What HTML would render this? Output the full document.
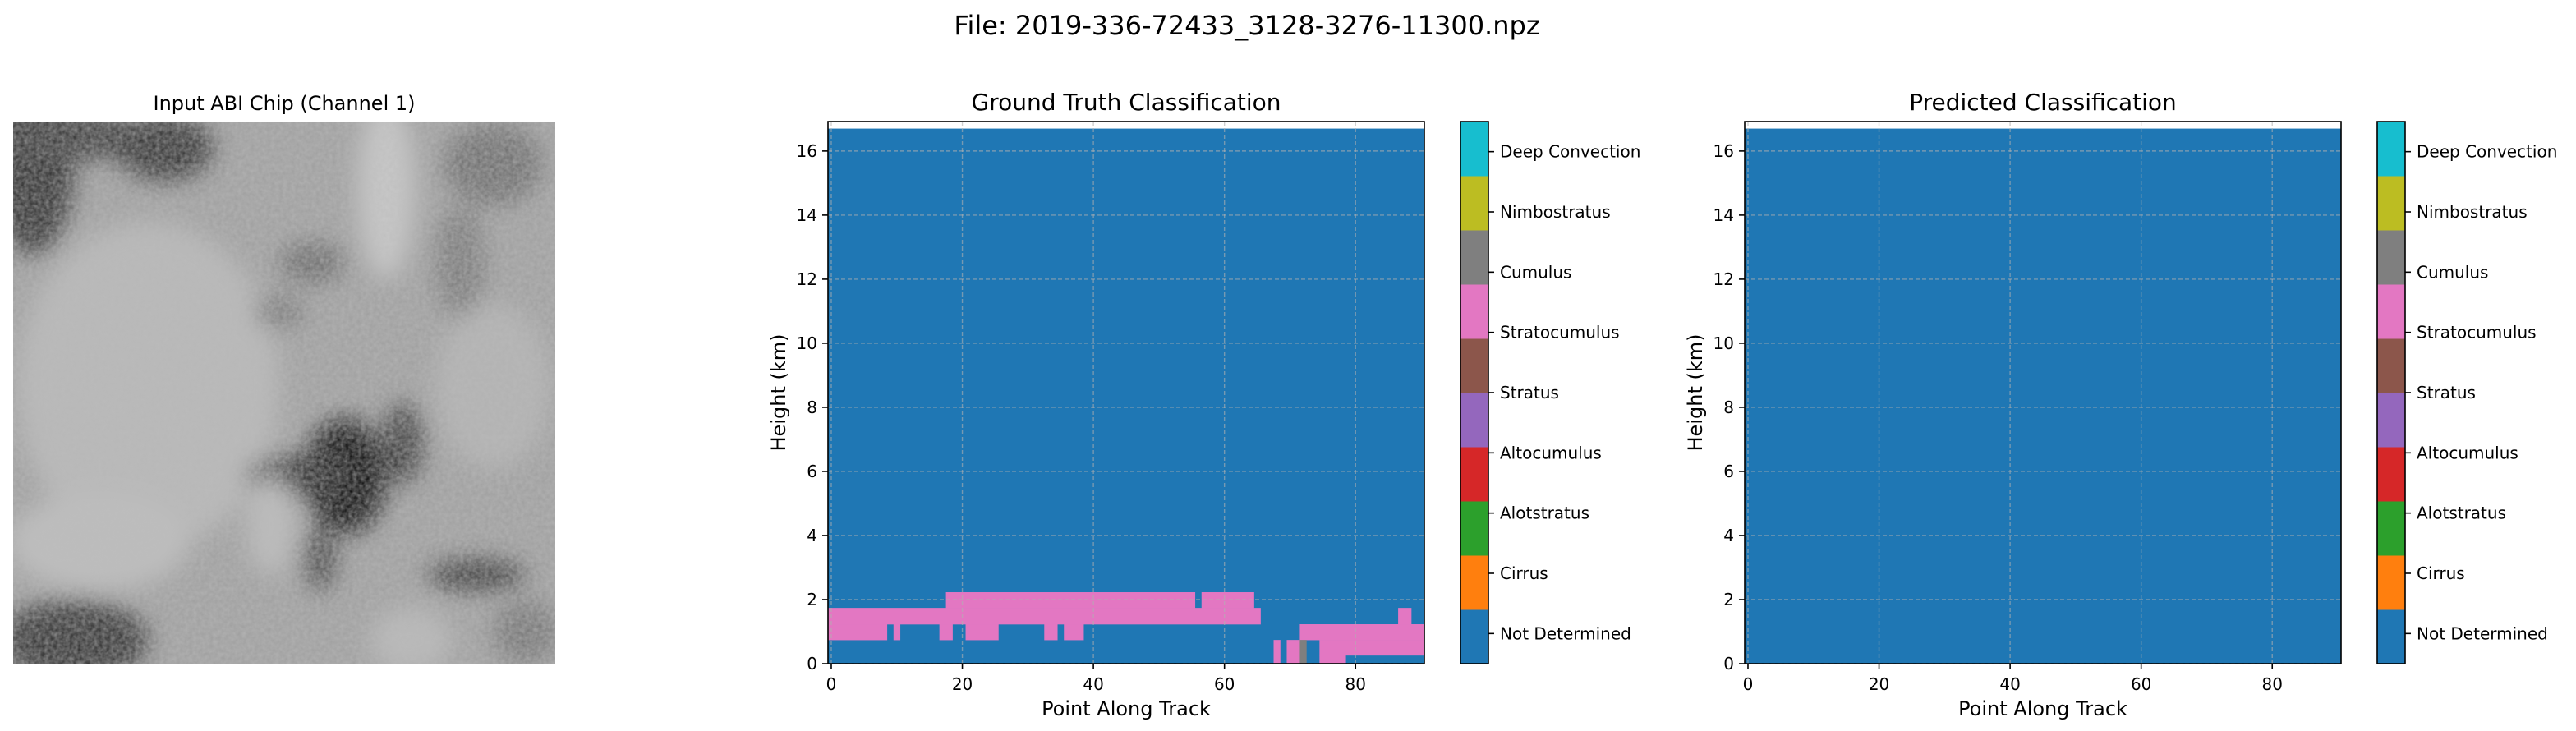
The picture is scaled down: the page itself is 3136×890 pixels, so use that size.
<!DOCTYPE html>
<html><head><meta charset="utf-8"><style>
html,body{margin:0;padding:0;background:#fff;}
svg{display:block;font-family:"DejaVu Sans","Liberation Sans",sans-serif;}
</style></head><body>
<svg id="fig" width="3136" height="890" viewBox="0 0 3136 890" xmlns="http://www.w3.org/2000/svg">
<defs>
<filter id="blur1" x="-20%" y="-20%" width="140%" height="140%"><feGaussianBlur stdDeviation="14"/></filter>
<filter id="noise" x="0" y="0" width="100%" height="100%">
<feTurbulence type="fractalNoise" baseFrequency="0.2" numOctaves="2" seed="4" result="t"/>
<feColorMatrix type="matrix" values="0 0 0 0 0.5  0 0 0 0 0.5  0 0 0 0 0.5  0 0 0 1.2 -0.1" />
</filter>
<clipPath id="imgclip"><rect x="16" y="148" width="660" height="660"/></clipPath>
</defs>
<text x="1518" y="42" font-size="32" text-anchor="middle" fill="#000">File: 2019-336-72433_3128-3276-11300.npz</text>

<g clip-path="url(#imgclip)">
<rect x="16" y="148" width="660" height="660" fill="#a0a0a0"/>
<g filter="url(#blur1)">
<ellipse cx="40" cy="200" rx="50" ry="110" fill="#2e2e2e"/>
<ellipse cx="90" cy="165" rx="90" ry="30" fill="#3a3a3a"/>
<ellipse cx="200" cy="180" rx="60" ry="40" fill="#333"/>
<ellipse cx="180" cy="470" rx="160" ry="200" fill="#b8b8b8"/>
<ellipse cx="120" cy="660" rx="110" ry="60" fill="#bdbdbd"/>
<ellipse cx="470" cy="230" rx="35" ry="110" fill="#c8c8c8"/>
<ellipse cx="600" cy="200" rx="60" ry="50" fill="#6e6e6e"/>
<ellipse cx="560" cy="320" rx="30" ry="70" fill="#7a7a7a"/>
<ellipse cx="380" cy="320" rx="40" ry="25" fill="#6a6a6a"/>
<ellipse cx="340" cy="380" rx="30" ry="20" fill="#777"/>
<ellipse cx="420" cy="580" rx="50" ry="70" fill="#111"/>
<ellipse cx="360" cy="580" rx="60" ry="25" fill="#2a2a2a"/>
<ellipse cx="330" cy="640" rx="30" ry="60" fill="#bbb"/>
<ellipse cx="490" cy="540" rx="25" ry="50" fill="#3e3e3e"/>
<ellipse cx="390" cy="680" rx="20" ry="40" fill="#4a4a4a"/>
<ellipse cx="580" cy="700" rx="60" ry="18" fill="#333"/>
<ellipse cx="90" cy="780" rx="90" ry="50" fill="#333"/>
<ellipse cx="600" cy="470" rx="70" ry="100" fill="#b2b2b2"/>
<ellipse cx="500" cy="780" rx="50" ry="40" fill="#b8b8b8"/>
<ellipse cx="640" cy="770" rx="40" ry="40" fill="#777"/>
</g>
<rect x="16" y="148" width="660" height="660" filter="url(#noise)" opacity="0.6"/>
</g>
<text x="346" y="134" font-size="24" text-anchor="middle">Input ABI Chip (Channel 1)</text>

<g id="gt"></g>
<g id="pred"></g>
</svg>
<script>
// ---- data ----
const nCols = 91;
const dataTop = 16.7;
const rowEdges = [0, 0.26, 0.74, 1.23, 1.74, 2.23];
// GT runs: [row, classIndex(6=Stratocumulus pink, 7=Cumulus gray), startCol, endCol]
const gtRuns = [
 [4,6,18,55],[4,6,57,64],
 [3,6,0,65],[3,6,87,88],
 [2,6,0,8],[2,6,10,10],[2,6,17,18],[2,6,21,25],[2,6,33,34],[2,6,36,38],[2,6,72,90],
 [1,6,68,68],[1,6,70,71],[1,7,72,72],[1,6,75,90],
 [0,6,68,68],[0,6,70,71],[0,7,72,72],[0,6,75,78]
];
const predRuns = [];
const xTicks = [0,20,40,60,80];
const yTicks = [0,2,4,6,8,10,12,14,16];
const cbColors = ["#1f77b4","#ff7f0e","#2ca02c","#d62728","#9467bd","#8c564b","#e377c2","#7f7f7f","#bcbd22","#17becf"];
const cbLabels = ["Not Determined","Cirrus","Alotstratus","Altocumulus","Stratus","Stratocumulus","Cumulus","Nimbostratus","Deep Convection"];
const NS="http://www.w3.org/2000/svg";
function mk(tag, attrs, parent){const e=document.createElementNS(NS,tag);for(const k in attrs)e.setAttribute(k,attrs[k]);parent.appendChild(e);return e;}

function panel(g, L, title, runs, cbL, prefix){
  const T=148, B=808, W=726, H=660, ymax=16.92;
  const x = v => L + (v+0.5)/nCols*W;
  const y = h => B - h/ymax*H;
  const bg = mk('rect',{x:x(-0.5),y:y(dataTop),width:x(nCols-0.5)-x(-0.5),height:y(0)-y(dataTop),fill:cbColors[0]},g);
  
  
  runs.forEach(r=>{
    const c = mk('rect',{x:x(r[2]-0.5),y:y(rowEdges[r[0]+1]),width:x(r[3]+0.5)-x(r[2]-0.5)+0.3,height:y(rowEdges[r[0]])-y(rowEdges[r[0]+1])+0.3,fill:cbColors[r[1]]},g);
    
    
  });
  xTicks.forEach(t=>{
    const l=mk('line',{x1:x(t),x2:x(t),y1:T,y2:B,stroke:"#b0b0b0","stroke-opacity":0.6,"stroke-width":1.4,"stroke-dasharray":"5,3"},g);
    
    
    const tk=mk('line',{x1:x(t),x2:x(t),y1:B,y2:B+7,stroke:"#000","stroke-width":1.6},g);
    
    
    const tx=mk('text',{x:x(t),y:840,"font-size":20,"text-anchor":"middle"},g);tx.textContent=t;
    
    
  });
  yTicks.forEach(t=>{
    const l=mk('line',{x1:L,x2:L+W,y1:y(t),y2:y(t),stroke:"#b0b0b0","stroke-opacity":0.6,"stroke-width":1.4,"stroke-dasharray":"5,3"},g);
    
    
    const tk=mk('line',{x1:L-7,x2:L,y1:y(t),y2:y(t),stroke:"#000","stroke-width":1.6},g);
    
    
    const tx=mk('text',{x:L-13,y:y(t)+7,"font-size":20,"text-anchor":"end"},g);tx.textContent=t;
    
    
  });
  const fr=mk('rect',{x:L,y:T,width:W,height:H,fill:"none",stroke:"#000","stroke-width":1.6},g);
  
  
  const ti=mk('text',{x:L+W/2,y:134,"font-size":28,"text-anchor":"middle"},g);ti.textContent=title;
  
  
  const xl=mk('text',{x:L+W/2,y:871,"font-size":24,"text-anchor":"middle"},g);xl.textContent="Point Along Track";
  
  
  const yl=mk('text',{x:0,y:0,"font-size":24,"text-anchor":"middle",transform:`translate(${L-52},${(T+B)/2}) rotate(-90)`},g);yl.textContent="Height (km)";
  
  
  // colorbar: 10 colour blocks, 9 evenly spaced tick labels
  const cw=34, nb=cbColors.length, bh=H/nb;
  cbColors.forEach((c,i)=>{
    const r=mk('rect',{x:cbL,y:B-(i+1)*bh,width:cw,height:bh+0.5,fill:c},g);
    
    
  });
  const n=cbLabels.length, ch=H/n;
  cbLabels.forEach((lab,i)=>{
    const yy=B-(i+0.5)*ch;
    const tk=mk('line',{x1:cbL+cw,x2:cbL+cw+7,y1:yy,y2:yy,stroke:"#000","stroke-width":1.6},g);
    
    
    const t=mk('text',{x:cbL+cw+14,y:yy+7,"font-size":20},g);t.textContent=lab;
    
    
  });
  const cf=mk('rect',{x:cbL,y:T,width:cw,height:H,fill:"none",stroke:"#000","stroke-width":1.6},g);
  
  
}
const gt=document.getElementById('gt');


panel(gt,1008,"Ground Truth Classification",gtRuns,1778,'ground-truth');
const pr=document.getElementById('pred');


panel(pr,2124,"Predicted Classification",predRuns,2894,'predicted');
</script>
</body></html>
